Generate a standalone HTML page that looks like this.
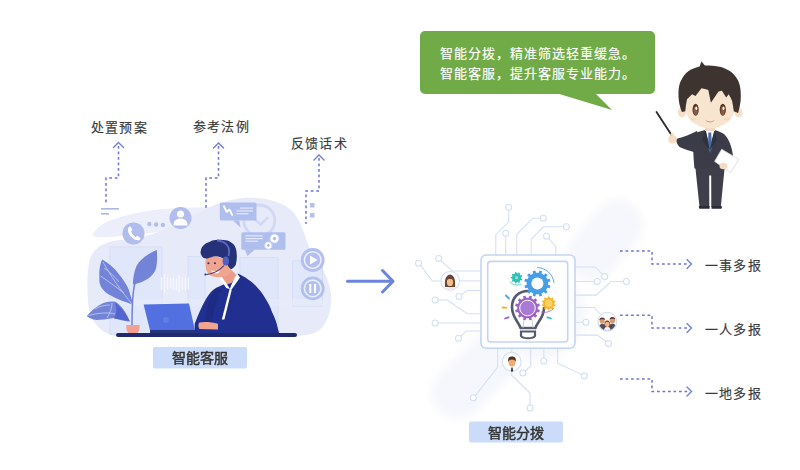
<!DOCTYPE html>
<html lang="zh-CN">
<head>
<meta charset="utf-8">
<style>
html,body{margin:0;padding:0;background:#fff;}
body{width:800px;height:470px;position:relative;overflow:hidden;font-family:"Liberation Sans",sans-serif;}
.t{position:absolute;font-size:13px;line-height:14px;letter-spacing:1.2px;-webkit-text-stroke:0.15px #3a3a3a;color:#3a3a3a;white-space:nowrap;}
.bt{position:absolute;font-size:14px;line-height:20px;-webkit-text-stroke:0.15px #fff;color:#fff;white-space:nowrap;}
svg{position:absolute;left:0;top:0;}
</style>
</head>
<body>
<svg width="800" height="470" viewBox="0 0 800 470">

  <!-- ===== LEFT ILLUSTRATION ===== -->
  <g id="left">
    <!-- upper light band -->
    <path d="M92.7,234.5 C96,228 103,223 110.5,220.4 C128,214 148,210 165,209 C185,207.5 205,207 225,207 C238,207.5 244,211 236,216 C215,224 185,229 160,232 C135,235 115,237 100,237 C95,237 92,236 92.7,234.5 Z" fill="#eceffb"/>
    <!-- main blob -->
    <path d="M88,302 C87,288 87,270 90,259 C93,249 103,242 118,240.2 C122,239.8 126,239.6 130,239.4 C152,236 176,226 200,212 C215,204 230,199 245,198 C265,197 282,201 293,212 C301,221 305,236 310,250 C316,260 326,270 330,288 C333,302 330,318 322,328 C316,334 306,336 290,336 L114,336 C98,332 89,318 88,302 Z" fill="#e7eaf9"/>
    <!-- buildings -->
    <g fill="#e0e7fa" stroke="#d6def7" stroke-width="1">
      <rect x="110" y="247" width="52" height="87"/>
      <rect x="188" y="256.5" width="17" height="77"/>
      <rect x="240" y="257.5" width="38" height="75"/>
      <rect x="292.5" y="261" width="30" height="45"/>
    </g>
    <rect x="88" y="299" width="240" height="7" fill="#e8ecfb" opacity="0.6"/>
    <!-- circles top -->
    <circle cx="133.5" cy="233.4" r="11" fill="#b1bdec"/>
    <path d="M128.6,227.2 C127.5,229.5 128,233.5 131,236.8 C134,240 137.5,241 139.8,240 L140.6,238.3 L137.4,235.8 L135.6,236.9 C133.6,235.6 132,233.8 131,231.6 L132.4,230 L130.6,226.6 Z" fill="#ffffff"/>
    <circle cx="149.3" cy="224" r="2.2" fill="#b1bdec"/>
    <circle cx="156.1" cy="224.5" r="2.2" fill="#b1bdec"/>
    <circle cx="162.9" cy="224.9" r="2.2" fill="#b1bdec"/>
    <circle cx="180.5" cy="218" r="11" fill="#b1bdec"/>
    <circle cx="180.5" cy="214" r="3.6" fill="#fff"/>
    <path d="M173.5,225.5 c0,-5 3,-7 7,-7 c4,0 7,2 7,7 Z" fill="#fff"/>
    <!-- clock -->
    <circle cx="259.3" cy="220.5" r="15.5" fill="none" stroke="#d0d8f4" stroke-width="2.8"/>
    <polyline points="254.5,219 260.5,224.5 268,217.5" fill="none" stroke="#d0d8f4" stroke-width="2.4"/>
    <!-- chat bubble 1 -->
    <rect x="219.8" y="202.6" width="36.7" height="18" rx="1.5" fill="#b0beee"/>
    <polygon points="233,220.5 240.6,227.5 239.2,220.5" fill="#b0beee"/>
    <path d="M223.6,205.6 L226.8,212 L229.4,209.4 L232.6,215.6" fill="none" stroke="#ffffff" stroke-width="1.9" stroke-linejoin="bevel"/>
    <g stroke="#e3e9fc" stroke-width="1.2">
      <line x1="240" y1="208.1" x2="253" y2="208.1"/>
      <line x1="236.4" y1="210.9" x2="253" y2="210.9"/>
      <line x1="236.4" y1="213.7" x2="248.5" y2="213.7"/>
    </g>
    <!-- chat bubble 2 -->
    <rect x="241.3" y="232.3" width="44.2" height="17.5" rx="1.5" fill="#b0beee"/>
    <polygon points="244.7,249.5 247.5,256 255,249.5" fill="#b0beee"/>
    <g stroke="#e3e9fc" stroke-width="1.2">
      <line x1="245.4" y1="235.8" x2="262.7" y2="235.8"/>
      <line x1="245.4" y1="238.6" x2="262.7" y2="238.6"/>
      <line x1="245.4" y1="241.2" x2="258" y2="241.2"/>
    </g>
    <g fill="none" stroke="#ffffff">
      <circle cx="274.5" cy="238.6" r="2.8" stroke-width="2"/>
      <circle cx="274.5" cy="238.6" r="4.3" stroke-width="1" stroke-dasharray="1.2 1"/>
      <circle cx="268.3" cy="245.5" r="2.3" stroke-width="1.8"/>
      <circle cx="268.3" cy="245.5" r="3.6" stroke-width="0.9" stroke-dasharray="1.1 0.9"/>
    </g>
    <!-- play / pause -->
    <circle cx="312.7" cy="260" r="11.9" fill="#b3bfee"/>
    <circle cx="312.7" cy="260" r="8.3" fill="none" stroke="#e9edfb" stroke-width="1.6"/>
    <polygon points="310,255.5 310,264.5 317.5,260" fill="#fff"/>
    <circle cx="312.7" cy="288.4" r="11.9" fill="#b3bfee"/>
    <circle cx="312.7" cy="288.4" r="8.3" fill="none" stroke="#e9edfb" stroke-width="1.6"/>
    <rect x="309.3" y="284" width="2" height="9" fill="#fff"/>
    <rect x="314.1" y="284" width="2" height="9" fill="#fff"/>
    <!-- sound wave -->
    <g stroke="#f4f7fe" stroke-width="1.3" stroke-linecap="round">
      <line x1="161.5" y1="278.0" x2="161.5" y2="289.3"/>
      <line x1="164.5" y1="274.6" x2="164.5" y2="292.0"/>
      <line x1="167.6" y1="277.3" x2="167.6" y2="289.3"/>
      <line x1="170.6" y1="278.7" x2="170.6" y2="287.9"/>
      <line x1="173.4" y1="278.0" x2="173.4" y2="289.3"/>
      <line x1="176.4" y1="278.7" x2="176.4" y2="289.9"/>
      <line x1="179.1" y1="275.3" x2="179.1" y2="292.0"/>
      <line x1="182.2" y1="278.0" x2="182.2" y2="289.3"/>
      <line x1="185.3" y1="278.7" x2="185.3" y2="289.3"/>
      <line x1="188.3" y1="278.0" x2="188.3" y2="289.3"/>
    </g>
    <!-- plant -->
    <g fill="#7283d8">
      <!-- tall leaf -->
      <path d="M132.9,284.5 C133,278 134,272 136.5,266 C140,259 148,254 156.8,250 C157.5,258 157,264 155.9,269 C153,276 147,280 140.5,282.6 C137,283.8 135,284.3 132.9,284.5 Z"/>
      <!-- big left leaf -->
      <path d="M132.9,304.6 C128,303 118,300 108,294 C101,289 99,284 99.4,278.7 C99,270 100,264 102.2,259.6 C110,264 116,270 119.5,275 C125,282 129,288 130,294 C131.5,298 132.5,301 132.9,304.6 Z"/>
      <!-- bottom leaf -->
      <path d="M130,321.8 C124,321 118,319.5 113.7,318 C107,319 101,320 96.5,320 C92,319.5 89,318 86.9,316 C92,310 98,305 104.1,302.7 C108,301.5 112,301.3 115.6,301.7 C121,305 126,312 130,321.8 Z"/>
    </g>
    <path d="M115,303 C120,306 126,313 129.5,321 L114,318.5 C117,314 117,308 115,303 Z" fill="#5364cf"/>
    <g fill="none" stroke="#c6cdf3" stroke-width="0.8">
      <path d="M103,262 C110,275 122,292 132,304"/>
      <path d="M100.5,276 C108,281 116,287 124,293"/>
      <path d="M104,268 C110,272 115,277 119,282"/>
      <path d="M88.5,315.5 C98,313 108,312 115,314"/>
      <path d="M95,309 C100,306 105,305 110,305"/>
      <path d="M107,318 C110,313 112,308 112,303"/>
    </g>
    <path d="M156,251.5 C147,262 139,272 135,283 C132.5,292 132,305 132,325" fill="none" stroke="#7283d8" stroke-width="1.5"/>
    <path d="M126.2,325 L139.6,325 C139.8,329 139,332.5 136.5,334 L129.3,334 C127,332.5 126.2,329 126.2,325 Z" fill="#f1a092"/>
    <!-- laptop -->
    <polygon points="143.6,304.6 189,303.6 195.5,333 150.7,333" fill="#5270df"/>
    <circle cx="165.8" cy="320" r="3" fill="#5f7ee6"/>
    <rect x="150" y="330" width="62" height="4" fill="#27337f"/>
    <!-- person -->
    <!-- jacket -->
    <path d="M194.7,333 L194.7,323.7 C198,315 202,306 206,299 C209,294 212,290 216.4,287.8 L224.6,284 L238,273.5 C243,276 248,279 252,282.3 C254,284 255.5,285.5 257,287.3 C260.5,291 263.5,295 266,299.5 C268.5,303.5 270.5,307.5 272,312 C274.5,317 276.5,322 277.5,327 L279,333 Z" fill="#202f90"/>
    <path d="M216.4,287.8 C210,296 206,310 205,322 L212,322 C214,310 216,298 222,290 Z" fill="#1d2b84"/>
    <path d="M240,276 L244,280 L234,295 C230,303 227,311 225,319" fill="none" stroke="#22307a" stroke-width="1"/>
    <!-- neck -->
    <path d="M219.4,276.4 L232,270.4 L237.2,276 L231.5,283 L225.3,285 Z" fill="#ec9b86"/>
    <!-- collar / shirt -->
    <path d="M219.2,277.5 L221.5,276.6 L226.5,283.5 L230.2,289.3 L226.2,288 Z" fill="#ffffff"/>
    <path d="M237.2,273.4 L240,277.6 L231.6,289.6 L229.8,289.2 C231.5,284 234,278 237.2,273.4 Z" fill="#ffffff"/>
    <path d="M229.6,289 L231.8,289.5 L224.4,319.6 L221.8,319.6 Z" fill="#ffffff"/>
    <!-- hand -->
    <path d="M199.4,322.5 C204,321.5 212,322 218,323.7 L218,329.5 L199.4,329 C198,327 198,324 199.4,322.5 Z" fill="#f2a58e"/>
    <!-- face -->
    <path d="M206.4,257.6 L215.8,256.2 L225.1,259.3 L229,264 L231.5,270.5 C230,273 228.5,275 226,276.2 C223.5,277 221,277.3 218,277.3 C215,277 212.5,276.5 210.5,275.5 C208.5,274 207,272 206.2,270 C205.5,267 205.4,263 205.6,260.5 Z" fill="#f2a58e"/>
    <path d="M210.8,270.3 C213,274 218,274.5 219.8,271.2 C216.5,271.6 213.5,271.3 210.8,270.3 Z" fill="#fff"/>
    <circle cx="208.4" cy="263.2" r="1.05" fill="#2a2f6a"/>
    <circle cx="214.9" cy="263.2" r="1.05" fill="#2a2f6a"/>
    <!-- hair -->
    <path d="M200.5,252.2 C201,249 201.5,247.5 202.9,245.9 C205,243.5 207,242.5 209.9,241.7 C212,240.5 215,239.9 218.1,239.8 C222,239.8 225,240 227.5,240.5 C230,241.5 232,242.8 233.3,244.1 C235,246 236,248.5 236.4,251.1 C236.8,254 236.9,256 236.8,258.1 C236.6,261 236.2,263 235.7,265.1 C234.5,267 233,268.5 231,269.3 C229.5,268 228.2,266.5 227.5,265.1 C226.5,263 225.8,261 225.1,259.3 C222,257.5 219,256.5 215.8,256.2 C212.5,256.5 210,257.5 207.6,258.6 C205.5,258.6 204,258.2 202.9,257.6 C201.5,256 200.6,254.2 200.5,252.2 Z" fill="#25327a"/>
    <!-- headset -->
    <path d="M217,240.5 C226,241 231,247 228.5,256" fill="none" stroke="#5c67c4" stroke-width="1.8"/>
    <ellipse cx="225.8" cy="261" rx="3.2" ry="4.6" fill="#5060c2"/>
    <path d="M224,265.5 C219,271 213,274 206.5,274.5" fill="none" stroke="#25327a" stroke-width="1.1"/>
    <circle cx="205.5" cy="274.5" r="1.1" fill="#25327a"/>
    <!-- desk bar -->
    <rect x="116" y="333" width="181" height="4" rx="2" fill="#1f2a6e"/>
  </g>


  <!-- ===== BUSINESSMAN ===== -->
  <g id="man">
    <!-- pointer stick -->
    <line x1="656.5" y1="112" x2="671.5" y2="135" stroke="#2a2a2e" stroke-width="1.8" stroke-linecap="round"/>
    <!-- legs -->
    <path d="M695.2,166 L724.8,166 L720.8,206.8 L711.3,206.8 L711.2,175.5 L709.2,175.5 L709.3,206.8 L699.5,206.8 Z" fill="#3e3f4b"/>
    <path d="M699.2,206 L709.6,206 L709.6,208.8 L699.8,208.8 C698.8,208.8 698.6,206.6 699.2,206 Z" fill="#2b2b33"/>
    <path d="M711.5,206 L721.5,206 C722.2,206.6 722,208.8 721,208.8 L711.5,208.8 Z" fill="#2b2b33"/>
    <!-- sleeve (pointing arm) -->
    <path d="M676,139 C683,137.5 690,134.5 697,131 L700,140 L695.5,152.5 C690,151 684,149 679.5,147 C677.5,145 676.3,142 676,139 Z" fill="#3b3c48"/>
    <!-- hand -->
    <circle cx="672.5" cy="139.2" r="4.3" fill="#f6dcc4"/>
    <path d="M670,135 l2,-3 l2,3" fill="#f6dcc4"/>
    <!-- jacket body -->
    <path d="M692.4,135 C697,132 701,131 705.6,130 L714.6,130 C718,131 721,132 724,134 C729,139 732,147 733,156 C733,161 732,164 730.8,166 L724.7,168.5 L694.4,168.5 C693.5,158 693,146 692.4,135 Z" fill="#3b3c48"/>
    <!-- shirt V -->
    <polygon points="705.6,130 714.6,130 709.8,147" fill="#ffffff"/>
    <!-- tie -->
    <polygon points="708.4,132.5 711.2,132.5 712,148 710,153 708,148" fill="#4b6aa8"/>
    <!-- lapels -->
    <path d="M705.6,130 L709.8,150 L702,140 Z" fill="#2f3140"/>
    <path d="M714.6,130 L709.8,150 L717,140 Z" fill="#2f3140"/>
    <!-- paper -->
    <polygon points="714.6,161.4 721.7,149.3 738.9,159.4 730.8,172.5" fill="#ffffff" stroke="#d9d9de" stroke-width="0.8"/>
    <!-- hand on paper -->
    <ellipse cx="723.5" cy="166" rx="4" ry="3.2" fill="#f6dcc4"/>
    <!-- neck -->
    <rect x="705" y="126" width="10" height="5" fill="#f3d7bf"/>
    <!-- ears -->
    <ellipse cx="682" cy="112.5" rx="4" ry="5" fill="#f6dfc8"/>
    <ellipse cx="738.5" cy="112.5" rx="4" ry="5" fill="#f6dfc8"/>
    <!-- face -->
    <path d="M686,100 C686,87 697,84 710,84 C723,84 734,87 734.5,100 L735,108 C734.5,119 725,127 710,128.5 C695,127 685.5,119 685.5,108 Z" fill="#f8e5d0"/>
    <!-- hair -->
    <path d="M678.5,91.6 C678.6,88 679.2,85 680.2,82.2 C681.8,78.5 683.8,75.5 686.2,72.9 C689,70.5 692,68.8 695.5,67.8 C700,66.2 704.5,65.6 709.1,65.6 C713,65.7 717,66.1 721,66.9 C724.8,68.2 728.2,69.8 731.3,72 C734.2,74.5 736.4,77.3 738.1,80.5 C739.6,83.8 740.3,87.2 740.6,90.7 C740.9,94.2 740.9,97.6 740.6,101 C740.1,105 739.3,109 738.1,112.9 L733.8,111.2 C733.3,107.8 732.8,104.4 732.1,101 C731.2,98.6 730,96.4 728.7,94.2 L726.2,97.6 L721.9,90.7 L718.5,91.6 L710.9,102.7 L708.3,89.9 C706,89.2 703.8,88.6 701.5,88.2 L695.5,95.9 L692.1,94.2 L687,99.3 C686.2,103.3 685.6,107.2 685.3,111.2 L681.9,112 C680.4,108.5 679.4,104.8 678.9,101 C678.5,97.9 678.4,94.7 678.5,91.6 Z" fill="#3d3430"/>
    <path d="M699.6,68.2 C699.8,65.5 700.6,63.3 701.6,61.6 C703.3,63.7 705.2,65.8 707,68 Z" fill="#3d3430"/>
    <!-- eyes -->
    <ellipse cx="695.6" cy="109.8" rx="3.1" ry="6" fill="#5a3426"/>
    <ellipse cx="695.6" cy="110.8" rx="2.1" ry="4.4" fill="#8a5a42"/>
    <ellipse cx="696.3" cy="108.3" rx="1" ry="1.8" fill="#ffffff"/>
    <ellipse cx="722.8" cy="109.8" rx="3.1" ry="6" fill="#5a3426"/>
    <ellipse cx="722.8" cy="110.8" rx="2.1" ry="4.4" fill="#8a5a42"/>
    <ellipse cx="723.5" cy="108.3" rx="1" ry="1.8" fill="#ffffff"/>
    <!-- blush -->
    <ellipse cx="693" cy="119" rx="3" ry="1.6" fill="#f5d8c2"/>
    <ellipse cx="727" cy="119" rx="3" ry="1.6" fill="#f5d8c2"/>
    <!-- smile -->
    <path d="M706,120.5 C708,122.5 712,122.5 714,120.5" fill="none" stroke="#c98f74" stroke-width="0.9" stroke-linecap="round"/>
  </g>

  <!-- speech bubble -->
  <rect x="420" y="31" width="235" height="63" rx="5" fill="#71ab47"/>
  <polygon points="556,93 595,93 612,110" fill="#71ab47"/>

  <!-- left dotted arrows -->
  <g fill="none" stroke="#6c76cf" stroke-width="1.5" stroke-dasharray="2.7 2.8">
    <polyline points="118.5,146 118.5,178 106,178 106,205"/>
    <polyline points="218.5,146 218.5,178 206,178 206,209"/>
    <polyline points="319,158 319,191 306,191 306,224"/>
  </g>
  <g fill="none" stroke="#6f7fd8" stroke-width="1.4" stroke-linecap="round">
    <polyline points="113.5,147.5 118.5,142.5 123.5,147.5"/>
    <polyline points="213.5,148 218.5,143 223.5,148"/>
    <polyline points="314,160 319,155 324,160"/>
  </g>
  <rect x="101" y="208" width="18" height="1.6" fill="#aab6e6"/>
  <rect x="101" y="213" width="8" height="1.6" fill="#aab6e6"/>
  <rect x="310" y="203" width="4.5" height="4.5" fill="#b5c0ec"/>
  <rect x="310" y="213" width="4.5" height="4.5" fill="#b5c0ec"/>


  <!-- ===== CIRCUIT CHIP ===== -->
  <g id="chip">
    <!-- faint background bands -->
    <filter id="soft" x="-20%" y="-20%" width="140%" height="140%"><feGaussianBlur stdDeviation="4"/></filter>
    <g fill="#f6f7fc" filter="url(#soft)">
      <rect x="560" y="215" width="90" height="50" rx="25" transform="rotate(-50 605 240)"/>
      <rect x="425" y="350" width="100" height="52" rx="26" transform="rotate(-45 475 376)"/>
      <rect x="490" y="260" width="90" height="100" rx="40" transform="rotate(-45 535 310)"/>
    </g>
    <g fill="none" stroke="#d3dff4" stroke-width="1.05">
      <!-- top -->
      <polyline points="495.8,255 495.8,234.7 508.7,222 508.7,210.3"/>
      <polyline points="505.7,255 505.7,236.2"/>
      <polyline points="516.8,255 516.8,234.3 533,218.2 540.2,218.2"/>
      <polyline points="531.2,255 531.2,239.2 543.5,226.8 563.4,226.8"/>
      <polyline points="555.8,255 555.8,246.7 548.6,238.3"/>
      <!-- left -->
      <polyline points="481,270.9 452.5,270.9 440.8,260.6"/>
      <polyline points="481,280.9 459.8,280.9"/>
      <polyline points="441,280.9 432.3,280.9 420.6,265.3"/>
      <polyline points="481,290.4 467.4,290.4 461.2,294.5"/>
      <polyline points="481,313.8 467.4,313.8 447.2,300 438.1,300"/>
      <polyline points="481,323 438.1,323"/>
      <polyline points="481,330.9 466.4,330.9 460.8,336.3"/>
      <!-- right -->
      <polyline points="575,267 595.1,267 602.6,274.5"/>
      <polyline points="575,281.5 594.2,281.5"/>
      <polyline points="575,295.1 596.2,295.1 611,281.5 623.4,281.5"/>
      <polyline points="575,307.4 594,307.4 600.5,314"/>
      <polyline points="575,322.3 583,322.3"/>
      <polyline points="575,335.1 597.2,335.1 606.4,341.5"/>
      <!-- bottom -->
      <polyline points="497.7,348 497.7,367 475.3,395.6"/>
      <polyline points="511.7,348 511.7,352.2"/>
      <polyline points="511.7,371.2 511.7,375.2 530,393 530,405"/>
      <polyline points="530.7,348 530.7,366.2 524.8,371"/>
      <polyline points="543.8,348 543.8,358"/>
      <polyline points="557.7,348 557.7,363.2 581.6,374.6"/>
    </g>
    <g fill="#ffffff" stroke="#d3dff4" stroke-width="1.05">
      <circle cx="508.7" cy="207.3" r="3"/>
      <circle cx="505.7" cy="233.2" r="3"/>
      <circle cx="543.2" cy="218.2" r="3"/>
      <circle cx="566.4" cy="226.8" r="3"/>
      <circle cx="546.5" cy="236.2" r="3"/>
      <circle cx="438.7" cy="258.5" r="3"/>
      <circle cx="418.5" cy="263.2" r="3"/>
      <circle cx="459" cy="296.4" r="3"/>
      <circle cx="435.1" cy="300" r="3"/>
      <circle cx="435.1" cy="323" r="3"/>
      <circle cx="458.5" cy="338.3" r="3"/>
      <circle cx="604.7" cy="276.6" r="3"/>
      <circle cx="597.2" cy="281.5" r="3"/>
      <circle cx="626.4" cy="281.5" r="3"/>
      <circle cx="586" cy="322.3" r="3"/>
      <circle cx="608.5" cy="343.6" r="3"/>
      <circle cx="473.3" cy="397.7" r="3"/>
      <circle cx="530" cy="408" r="3"/>
      <circle cx="522.8" cy="373" r="3"/>
      <circle cx="543.8" cy="361" r="3"/>
      <circle cx="584.3" cy="376" r="3"/>
    </g>
    <!-- chip body -->
    <rect x="481" y="255" width="94" height="93.2" rx="5" fill="#ffffff" stroke="#c3d5f3" stroke-width="1.6"/>
    <rect x="487.7" y="261.4" width="80" height="80.6" rx="3" fill="#ffffff" stroke="#c3d5f3" stroke-width="1.6"/>
    <!-- avatars -->
    <circle cx="450.2" cy="280.8" r="9.4" fill="#ffffff" stroke="#d3dff4" stroke-width="1.05"/>
    <circle cx="607.3" cy="321.7" r="9.4" fill="#ffffff" stroke="#d3dff4" stroke-width="1.05"/>
    <circle cx="511.7" cy="361.7" r="9.4" fill="#ffffff" stroke="#d3dff4" stroke-width="1.05"/>
    <!-- female avatar -->
    <path d="M445,287 C444.6,281 445,275.5 450,274.6 C455,275.5 455.4,281 455,287 Z" fill="#6b4536"/>
    <ellipse cx="450" cy="282.2" rx="3.1" ry="3.9" fill="#f1be8c"/>
    <path d="M446.6,280 C446.8,276.8 453.2,276.8 453.4,280 C452,278.6 448,278.6 446.6,280 Z" fill="#6b4536"/>
    <path d="M446.5,288.6 C447.5,286.4 452.5,286.4 453.5,288.6 L453.5,289.6 L446.5,289.6 Z" fill="#f6e8ea"/>
    <!-- male avatar -->
    <path d="M509.4,366 C510,368 514,368 514.6,366 L515,369.5 L509,369.5 Z" fill="#ffffff"/>
    <ellipse cx="512" cy="362.6" rx="3.4" ry="4" fill="#f1aa72"/>
    <path d="M508.2,362 C507.6,357.2 509.5,356.4 512,356.4 C514.5,356.4 516.4,357.2 515.8,362 C515,360 514,359.4 512,359.4 C510,359.4 509,360 508.2,362 Z" fill="#4d3026"/>
    <path d="M511.4,367.5 L512.6,367.5 L513.1,371.5 L510.9,371.5 Z" fill="#2e3347"/>
    <!-- group avatar -->
    <clipPath id="cg"><circle cx="607.3" cy="321.7" r="8.8"/></clipPath>
    <g clip-path="url(#cg)">
      <path d="M597.8,331 C598,326 600,324 602.2,323.8 C604.6,324 606.6,326 606.8,331 Z" fill="#4a5162"/>
      <path d="M607.8,331 C608,326 610,324 612.4,323.6 C614.8,324 616.8,326 617,331 Z" fill="#4a5162"/>
      <ellipse cx="602.2" cy="320.8" rx="2.6" ry="2.9" fill="#dc9a6c"/>
      <path d="M599.4,320.2 C599,316.5 605.4,316.5 605,320.2 C604,318.8 600.5,318.8 599.4,320.2 Z" fill="#5a3028"/>
      <ellipse cx="612.4" cy="320.4" rx="2.6" ry="2.9" fill="#dc9a6c"/>
      <path d="M609.6,319.8 C609.2,316 615.6,316 615.2,319.8 C614.2,318.4 610.7,318.4 609.6,319.8 Z" fill="#5a3028"/>
      <path d="M604.4,327.5 C604,322 605.5,320.6 607.3,320.6 C609.1,320.6 610.6,322 610.2,327.5 Z" fill="#6a3a2c"/>
      <ellipse cx="607.3" cy="324.4" rx="2.3" ry="2.6" fill="#f0b489"/>
      <path d="M603.8,331 C604.3,327.5 606,326.8 607.3,326.8 C608.6,326.8 610.3,327.5 610.8,331 Z" fill="#f4f0f4"/>
    </g>
    <!-- lightbulb & gears -->
    <g id="bulb">
      <!-- bulb outline -->
      <path d="M520.5,328 C519,322 512,318 512,307 C512,297 519,291 528,291" fill="none" stroke="#555a6e" stroke-width="2.6" stroke-linecap="round"/>
      <path d="M535.5,328 C537,322 544,318 544,308" fill="none" stroke="#555a6e" stroke-width="2.6" stroke-linecap="round"/>
      <path d="M520.5,328 L535.5,328" stroke="#555a6e" stroke-width="2.4"/>
      <path d="M521,331.5 L535,331.5 L535,336 C533,339 523,339 521,336 Z" fill="none" stroke="#555a6e" stroke-width="2.2"/>
      <g stroke="#b9bcc8" stroke-width="0.8" fill="none">
        <line x1="524" y1="320" x2="523" y2="328"/>
        <line x1="532" y1="320" x2="533" y2="328"/>
      </g>
      <!-- purple gear -->
      <path d="M537.80,308.00 L537.71,309.34 L539.85,309.96 L539.17,312.48 L537.02,311.94 L536.42,313.15 L535.67,314.27 L537.21,315.87 L535.37,317.71 L533.77,316.17 L532.65,316.92 L531.44,317.52 L531.98,319.67 L529.46,320.35 L528.84,318.21 L527.50,318.30 L526.16,318.21 L525.54,320.35 L523.02,319.67 L523.56,317.52 L522.35,316.92 L521.23,316.17 L519.63,317.71 L517.79,315.87 L519.33,314.27 L518.58,313.15 L517.98,311.94 L515.83,312.48 L515.15,309.96 L517.29,309.34 L517.20,308.00 L517.29,306.66 L515.15,306.04 L515.83,303.52 L517.98,304.06 L518.58,302.85 L519.33,301.73 L517.79,300.13 L519.63,298.29 L521.23,299.83 L522.35,299.08 L523.56,298.48 L523.02,296.33 L525.54,295.65 L526.16,297.79 L527.50,297.70 L528.84,297.79 L529.46,295.65 L531.98,296.33 L531.44,298.48 L532.65,299.08 L533.77,299.83 L535.37,298.29 L537.21,300.13 L535.67,301.73 L536.42,302.85 L537.02,304.06 L539.17,303.52 L539.85,306.04 L537.71,306.66 Z" fill="#9b62c8"/>
      <circle cx="527.5" cy="308" r="7.8" fill="#a97ad6" stroke="#ffffff" stroke-width="1"/>
      <!-- blue gear -->
      <path d="M548.20,283.50 L548.11,284.91 L550.44,285.56 L549.72,288.23 L547.38,287.63 L546.75,288.90 L545.97,290.07 L547.66,291.81 L545.71,293.76 L543.97,292.07 L542.80,292.85 L541.53,293.48 L542.13,295.82 L539.46,296.54 L538.81,294.21 L537.40,294.30 L535.99,294.21 L535.34,296.54 L532.67,295.82 L533.27,293.48 L532.00,292.85 L530.83,292.07 L529.09,293.76 L527.14,291.81 L528.83,290.07 L528.05,288.90 L527.42,287.63 L525.08,288.23 L524.36,285.56 L526.69,284.91 L526.60,283.50 L526.69,282.09 L524.36,281.44 L525.08,278.77 L527.42,279.37 L528.05,278.10 L528.83,276.93 L527.14,275.19 L529.09,273.24 L530.83,274.93 L532.00,274.15 L533.27,273.52 L532.67,271.18 L535.34,270.46 L535.99,272.79 L537.40,272.70 L538.81,272.79 L539.46,270.46 L542.13,271.18 L541.53,273.52 L542.80,274.15 L543.97,274.93 L545.71,273.24 L547.66,275.19 L545.97,276.93 L546.75,278.10 L547.38,279.37 L549.72,278.77 L550.44,281.44 L548.11,282.09 Z" fill="#469ee9"/>
      <circle cx="537.4" cy="283.5" r="6" fill="#ffffff"/>
      <path d="M537,267.5 C546,268 553,274 554,283" fill="none" stroke="#4aa3ea" stroke-width="0.9"/>
      <!-- teal gear -->
      <path d="M521.20,277.70 L521.13,278.50 L522.27,278.91 L521.72,280.42 L520.58,280.00 L520.12,280.66 L519.56,281.22 L520.17,282.27 L518.77,283.08 L518.17,282.02 L517.40,282.23 L516.60,282.30 L516.40,283.50 L514.81,283.22 L515.03,282.02 L514.30,281.68 L513.64,281.22 L512.72,282.01 L511.68,280.77 L512.62,280.00 L512.28,279.27 L512.07,278.50 L510.86,278.51 L510.86,276.89 L512.07,276.90 L512.28,276.13 L512.62,275.40 L511.68,274.63 L512.72,273.39 L513.64,274.18 L514.30,273.72 L515.03,273.38 L514.81,272.18 L516.40,271.90 L516.60,273.10 L517.40,273.17 L518.17,273.38 L518.77,272.32 L520.17,273.13 L519.56,274.18 L520.12,274.74 L520.58,275.40 L521.72,274.98 L522.27,276.49 L521.13,276.90 Z" fill="#2fc0b3"/>
      <circle cx="516.6" cy="277.7" r="1.6" fill="#8fe0d8"/>
      <path d="M510,281.5 C512,285 517,286 521,284" fill="none" stroke="#2ec4b6" stroke-width="0.8"/>
      <!-- yellow gear -->
      <path d="M554.30,303.40 L554.23,304.28 L555.58,304.71 L555.03,306.38 L553.69,305.94 L553.23,306.69 L552.66,307.36 L553.49,308.50 L552.07,309.53 L551.24,308.39 L550.43,308.73 L549.58,308.93 L549.58,310.34 L547.82,310.34 L547.82,308.93 L546.97,308.73 L546.16,308.39 L545.33,309.53 L543.91,308.50 L544.74,307.36 L544.17,306.69 L543.71,305.94 L542.37,306.38 L541.82,304.71 L543.17,304.28 L543.10,303.40 L543.17,302.52 L541.82,302.09 L542.37,300.42 L543.71,300.86 L544.17,300.11 L544.74,299.44 L543.91,298.30 L545.33,297.27 L546.16,298.41 L546.97,298.07 L547.82,297.87 L547.82,296.46 L549.58,296.46 L549.58,297.87 L550.43,298.07 L551.24,298.41 L552.07,297.27 L553.49,298.30 L552.66,299.44 L553.23,300.11 L553.69,300.86 L555.03,300.42 L555.58,302.09 L554.23,302.52 Z" fill="#f6b42c"/>
      <circle cx="548.7" cy="303.4" r="3.8" fill="#fbd160"/>
      <path d="M541,312 C545,313 551,312 554,308" fill="none" stroke="#9a63c9" stroke-width="0.8"/>
      <!-- dashes -->
      <line x1="506" y1="295.5" x2="509" y2="298.5" stroke="#4aa3ea" stroke-width="1.8" stroke-linecap="round"/>
      <line x1="502.5" y1="307.5" x2="506.5" y2="307.8" stroke="#f7b32b" stroke-width="1.8" stroke-linecap="round"/>
      <line x1="505" y1="318.5" x2="508.5" y2="317.3" stroke="#9a63c9" stroke-width="1.8" stroke-linecap="round"/>
      <line x1="547.5" y1="317.3" x2="551" y2="318.5" stroke="#2ec4b6" stroke-width="1.8" stroke-linecap="round"/>
    </g>
  </g>

  <!-- center arrow -->
  <g fill="none" stroke="#6b84e0" stroke-width="3" stroke-linecap="round" stroke-linejoin="round">
    <line x1="347.5" y1="281.3" x2="392.5" y2="281.3"/>
    <polyline points="382.5,270.5 393,281.3 382.5,292"/>
  </g>

  <!-- label boxes -->
  <rect x="153" y="347" width="94" height="21.5" rx="2" fill="#cadcf9"/>
  <rect x="469" y="421.5" width="94" height="21" rx="2" fill="#cadcf9"/>

  <!-- right dotted arrows -->
  <g fill="none" stroke="#6c76cf" stroke-width="1.5" stroke-dasharray="2.7 2.8">
    <polyline points="620,251 652,251 652,264 688,264"/>
    <polyline points="620,315.2 652,315.2 652,328 688,328"/>
    <polyline points="620,379 652,379 652,391.5 688,391.5"/>
  </g>
  <g fill="none" stroke="#6f7fd8" stroke-width="1.4" stroke-linecap="round">
    <polyline points="687,259.5 691.5,264 687,268.5"/>
    <polyline points="687,323.5 691.5,328 687,332.5"/>
    <polyline points="687,387 691.5,391.5 687,396"/>
  </g>
</svg>

<div class="bt" style="left:440px;top:44px;letter-spacing:1px;font-size:13px;">智能分拨，精准筛选轻重缓急。<br>智能客服，提升客服专业能力。</div>
<div class="t" style="left:91px;top:121px;">处置预案</div>
<div class="t" style="left:193px;top:120px;">参考法例</div>
<div class="t" style="left:291px;top:137px;">反馈话术</div>
<div class="t" style="left:172px;top:351px;font-size:14px;letter-spacing:0px;-webkit-text-stroke:0.45px #333;color:#333;">智能客服</div>
<div class="t" style="left:488px;top:426px;font-size:14px;letter-spacing:0px;-webkit-text-stroke:0.45px #333;color:#333;">智能分拨</div>
<div class="t" style="left:705px;top:259px;">一事多报</div>
<div class="t" style="left:705px;top:323px;">一人多报</div>
<div class="t" style="left:705px;top:387px;">一地多报</div>
</body>
</html>
